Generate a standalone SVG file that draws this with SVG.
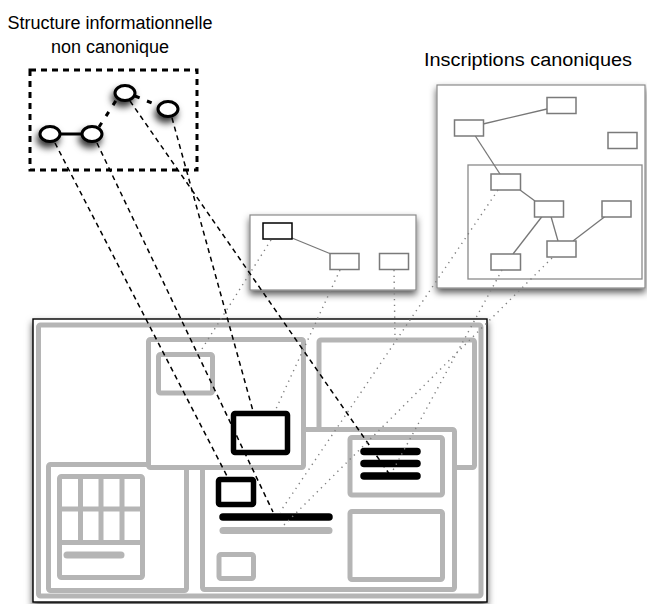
<svg xmlns="http://www.w3.org/2000/svg" width="647" height="604" viewBox="0 0 647 604">
<style>
  .t { font-family: "Liberation Sans", Arial, sans-serif; font-size: 18px; fill: #000; }
  .g { fill: #fff; stroke: #b5b5b5; stroke-width: 5; stroke-linejoin: round; }
  .gl { fill: none; stroke: #b5b5b5; stroke-width: 5; }
  .k { fill: #fff; stroke: #000; stroke-width: 5.5; stroke-linejoin: round; }
  .bar { stroke: #000; stroke-width: 7.5; stroke-linecap: round; }
  .gbar { stroke: #b5b5b5; stroke-width: 7; stroke-linecap: round; }
  .win { fill: #fff; stroke: #8a8a8a; stroke-width: 1.2; }
  .box { fill: #fff; stroke: #7a7a7a; stroke-width: 1.5; }
  .edge { stroke: #777; stroke-width: 1.3; fill: none; }
  .dash { stroke: #000; stroke-width: 1.5; stroke-dasharray: 5 4; fill: none; }
  .dot { stroke: #808080; stroke-width: 1.4; stroke-dasharray: 1.3 4.5; fill: none; }
  .node { fill: #fff; stroke: #000; stroke-width: 3; }
</style>
<defs>
  <filter id="sh" x="-20%" y="-20%" width="140%" height="150%">
    <feDropShadow dx="0" dy="4" stdDeviation="3.5" flood-color="#000" flood-opacity="0.65"/>
  </filter>
  <filter id="csh" x="-80%" y="-80%" width="260%" height="300%">
    <feDropShadow dx="-2" dy="5" stdDeviation="3.5" flood-color="#000" flood-opacity="0.8"/>
  </filter>
</defs>

<g id="labels">
  <text class="t" x="110" y="29" text-anchor="middle">Structure informationnelle</text>
  <text class="t" x="110" y="53" text-anchor="middle">non canonique</text>
  <text class="t" x="424" y="66" font-size="19" textLength="208" lengthAdjust="spacingAndGlyphs">Inscriptions canoniques</text>
</g>

<g id="structure">
  <rect x="30" y="70" width="167" height="100" fill="none" stroke="#000" stroke-width="3" stroke-dasharray="6 5"/>
  <line x1="60" y1="134" x2="82" y2="134" stroke="#000" stroke-width="3"/>
  <line x1="99" y1="127" x2="117" y2="99" stroke="#000" stroke-width="3" stroke-dasharray="5 8"/>
  <line x1="135" y1="96" x2="159" y2="106" stroke="#000" stroke-width="3" stroke-dasharray="5 8"/>
  <ellipse id="c1" class="node" filter="url(#csh)" cx="50" cy="134" rx="10" ry="7.5"/>
  <ellipse id="c2" class="node" filter="url(#csh)" cx="92" cy="134" rx="10" ry="7.5"/>
  <ellipse id="c3" class="node" filter="url(#csh)" cx="125" cy="93" rx="10" ry="7.5"/>
  <ellipse id="c4" class="node" filter="url(#csh)" cx="168" cy="109" rx="10" ry="7.5"/>
</g>

<g id="middle-window">
  <rect class="win" filter="url(#sh)" x="250" y="215" width="166" height="75"/>
  <line class="edge" x1="292" y1="238" x2="331" y2="254"/>
  <rect x="263" y="223" width="29" height="16" fill="#fff" stroke="#000" stroke-width="1.5"/>
  <rect class="box" x="330" y="253.5" width="29" height="16"/>
  <rect class="box" x="379.5" y="253.5" width="29" height="16"/>
</g>

<g id="right-window">
  <rect class="win" filter="url(#sh)" x="437" y="85" width="208" height="203"/>
  <rect x="468" y="165" width="174" height="114" fill="none" stroke="#8a8a8a" stroke-width="1.3"/>
  <line class="edge" x1="483" y1="124" x2="547" y2="109"/>
  <line class="edge" x1="475" y1="135.5" x2="500" y2="174"/>
  <line class="edge" x1="520" y1="190" x2="535" y2="201"/>
  <line class="edge" x1="542" y1="216.5" x2="513" y2="254"/>
  <line class="edge" x1="551" y1="216.5" x2="558" y2="241"/>
  <line class="edge" x1="573" y1="241" x2="605" y2="216.5"/>
  <rect class="box" x="454.5" y="120" width="29" height="16"/>
  <rect class="box" x="547" y="97.5" width="29" height="16"/>
  <rect class="box" x="608" y="132.5" width="29" height="16"/>
  <rect class="box" x="491" y="174" width="29.5" height="16"/>
  <rect class="box" x="534.5" y="201" width="29" height="16"/>
  <rect class="box" x="602" y="201" width="29" height="16"/>
  <rect class="box" x="547" y="241" width="29" height="16"/>
  <rect class="box" x="491" y="254" width="29.5" height="16"/>
</g>

<g id="page">
  <rect x="33" y="319" width="454" height="283" fill="#fff" stroke="#000" stroke-width="1.4" filter="url(#sh)"/>
  <rect class="g" x="38.5" y="325" width="442.5" height="271" rx="2"/>
  <g id="top-right-zone">
    <rect class="g" x="319" y="340" width="155.5" height="127.5" rx="2"/>
  </g>
  <g id="lower-left-zone">
    <rect class="g" x="48.5" y="464.5" width="138" height="126" rx="2"/>
    <rect class="g" x="59.5" y="476.5" width="83" height="101" rx="2"/>
    <line class="gl" x1="59.5" y1="509" x2="142.5" y2="509" stroke-width="8"/>
    <line class="gl" x1="59.5" y1="542.5" x2="142.5" y2="542.5"/>
    <line class="gl" x1="80.5" y1="476.5" x2="80.5" y2="542.5"/>
    <line class="gl" x1="101" y1="476.5" x2="101" y2="542.5"/>
    <line class="gl" x1="122" y1="476.5" x2="122" y2="542.5"/>
    <line class="gbar" x1="67" y1="555" x2="121" y2="555"/>
  </g>
  <g id="lower-right-zone">
    <rect class="g" x="202.5" y="429.5" width="252" height="160" rx="2"/>
    <rect class="g" x="350" y="437.5" width="92.5" height="57.5" rx="2"/>
    <rect class="g" x="350" y="511.5" width="92.5" height="68" rx="2"/>
    <rect class="g" x="219" y="554.5" width="34.5" height="24" rx="2"/>
    <line class="gbar" x1="223" y1="530.5" x2="329" y2="530.5"/>
    <rect class="k" x="218.5" y="479.5" width="35" height="25" rx="1.5"/>
    <line class="bar" x1="223" y1="517" x2="329" y2="517"/>
    <line class="bar" x1="364" y1="451.5" x2="417" y2="451.5"/>
    <line class="bar" x1="364" y1="463.5" x2="417" y2="463.5"/>
    <line class="bar" x1="364" y1="476" x2="417" y2="476"/>
  </g>
  <g id="center-zone">
    <rect class="g" x="148.5" y="339.5" width="155" height="128" rx="2"/>
    <rect class="g" x="158.5" y="354.5" width="54" height="38.5" rx="2"/>
    <rect class="k" x="233.5" y="413.5" width="54" height="39" rx="1.5"/>
  </g>
</g>

<g id="connectors">
  <line class="dash" x1="55" y1="143" x2="227" y2="476"/>
  <line class="dash" x1="97" y1="143" x2="273" y2="512"/>
  <line class="dash" x1="130" y1="101" x2="390" y2="475"/>
  <line class="dash" x1="172" y1="118" x2="253" y2="411"/>
  <line class="dot" x1="271" y1="240" x2="200" y2="352"/>
  <line class="dot" x1="340" y1="270" x2="275" y2="411"/>
  <line class="dot" x1="394" y1="270" x2="395" y2="338"/>
  <line class="dot" x1="498" y1="190" x2="280" y2="512"/>
  <line class="dot" x1="552" y1="258" x2="282" y2="527"/>
  <line class="dot" x1="502" y1="270" x2="392" y2="472"/>
</g>
</svg>
